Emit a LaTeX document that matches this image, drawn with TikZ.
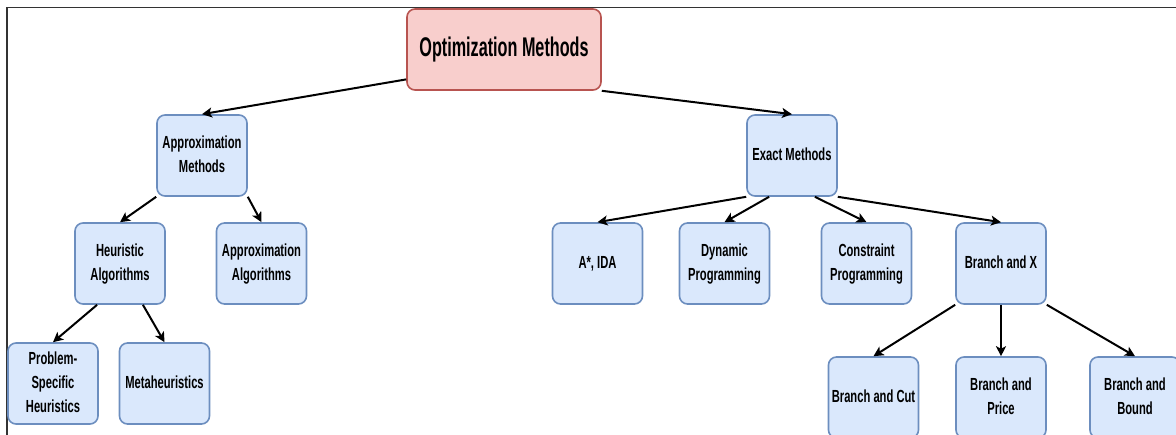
\documentclass[tikz,border=0pt]{standalone}
\usepackage{fontspec}
\setmainfont{Liberation Sans}
\usepackage{graphicx}
\usetikzlibrary{arrows.meta,calc}

\definecolor{bluefill}{HTML}{DAE8FC}
\definecolor{bluedraw}{HTML}{6C8EBF}
\definecolor{redfill}{HTML}{F8CECC}
\definecolor{reddraw}{HTML}{B85450}
\definecolor{framegray}{HTML}{333333}

% narrow multi-line label for the method boxes
\newcommand{\boxlabel}[1]{\scalebox{0.64}[1]{\fontsize{17.5}{24}\selectfont\bfseries\begin{tabular}{@{}c@{}}#1\end{tabular}}}

\tikzset{
  method/.style={draw=bluedraw, fill=bluefill, line width=1.6pt, rounded corners=8pt,
    minimum width=90pt, minimum height=81pt, inner sep=0pt, align=center},
  rootbox/.style={draw=reddraw, fill=redfill, line width=1.6pt, rounded corners=8pt,
    minimum width=194pt, minimum height=81pt, inner sep=0pt, align=center},
  link/.style={line width=2pt, black, -{Stealth[length=10pt,width=10pt,inset=2.5pt]}},
}

\begin{document}
\begin{tikzpicture}[x=1pt, y=-1pt]
\useasboundingbox (0,0) rectangle (1176,434);
\clip (0,0) rectangle (1176,434);

% outer frame (only its top and left edges fall inside the page)
\draw[framegray, line width=1.3pt] (7,7.5) rectangle (1220,480);

% root
\node[rootbox] (opt) at (504,49.5)
  {\scalebox{0.60}[1]{\fontsize{27}{32}\selectfont\bfseries Optimization Methods}};

% approximation branch
\node[method] (am) at (202,155.5) {\boxlabel{Approximation\\Methods}};
\node[method] (ha) at (120,263.5) {\boxlabel{Heuristic\\Algorithms}};
\node[method] (aa) at (261.5,263.5) {\boxlabel{Approximation\\Algorithms}};
\node[method] (ps) at (53,383.5) {\boxlabel{Problem-\\Specific\\Heuristics}};
\node[method] (mh) at (164.5,383.5) {\boxlabel{Metaheuristics}};

% exact branch
\node[method] (em) at (792,155.5) {\boxlabel{Exact Methods}};
\node[method] (ai) at (597.5,263.5) {\boxlabel{A*, IDA}};
\node[method] (dp) at (724.5,263.5) {\boxlabel{Dynamic\\Programming}};
\node[method] (cp) at (866.5,263.5) {\boxlabel{Constraint\\Programming}};
\node[method] (bx) at (1001,263.5) {\boxlabel{Branch and X}};
\node[method] (bc) at (873.5,397.5) {\boxlabel{Branch and Cut}};
\node[method] (bp) at (1001,397.5) {\boxlabel{Branch and\\Price}};
\node[method] (bb) at (1135,397.5) {\boxlabel{Branch and\\Bound}};

% connectors
\draw[link] (opt.197.5) -- (am.north);
\draw[link] (opt.south east) -- (em.north);

\draw[link] (am.south west) -- (ha.north);
\draw[link] (am.south east) -- (aa.north);

\draw[link] ($(ha.south west)!0.25!(ha.south east)$) -- (ps.north);
\draw[link] ($(ha.south west)!0.75!(ha.south east)$) -- (mh.north);

\draw[link] (em.south west) -- (ai.north);
\draw[link] ($(em.south west)!0.25!(em.south east)$) -- (dp.north);
\draw[link] ($(em.south west)!0.75!(em.south east)$) -- (cp.north);
\draw[link] (em.south east) -- (bx.north);

\draw[link] (bx.south west) -- (bc.north);
\draw[link] (bx.south) -- (bp.north);
\draw[link] (bx.south east) -- (bb.north);
\end{tikzpicture}
\end{document}
